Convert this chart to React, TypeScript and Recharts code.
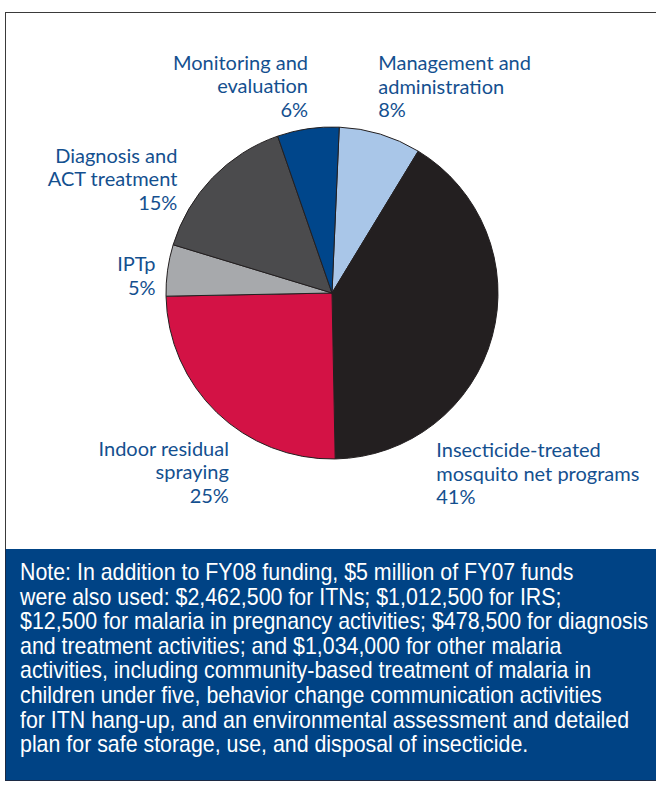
import { PieChart, Pie, Cell } from 'recharts';

// FY08 malaria budget split, clockwise from 12 o'clock
const categories = [
  'Management and\nadministration',
  'Insecticide-treated\nmosquito net programs',
  'Indoor residual\nspraying',
  'IPTp',
  'Diagnosis and\nACT treatment',
  'Monitoring and\nevaluation',
];
const shares = [8, 41, 25, 5, 15, 6];
const sliceColors = ['#a9c6e8', '#231f20', '#d31245', '#a7a9ac', '#4b4b4d', '#00468b'];

const noteLines = [
  'Note: In addition to FY08 funding, $5 million of FY07 funds',
  'were also used: $2,462,500 for ITNs; $1,012,500 for IRS;',
  '$12,500 for malaria in pregnancy activities; $478,500 for diagnosis',
  'and treatment activities; and $1,034,000 for other malaria',
  'activities, including community-based treatment of malaria in',
  'children under five, behavior change communication activities',
  'for ITN hang-up, and an environmental assessment and detailed',
  'plan for safe storage, use, and disposal of insecticide.',
];

// where each label sits relative to its slice's outer edge
const labelPlacement = [
  { anchor: 'start', dx: -2, dy: -72 },
  { anchor: 'start', dx: -56, dy: 113 },
  { anchor: 'end', dx: 12, dy: 35 },
  { anchor: 'end', dx: -12, dy: -7 },
  { anchor: 'end', dx: -35, dy: -23 },
  { anchor: 'end', dx: 0, dy: -67 },
];

const data = categories.map((name, i) => ({ name, value: shares[i] }));

const RADIAN = Math.PI / 180;
const LABEL_COLOR = '#14508f';

const renderLabel = (props: any) => {
  const { cx, cy, midAngle, outerRadius, index } = props;
  const ex = cx + outerRadius * Math.cos(-midAngle * RADIAN);
  const ey = cy + outerRadius * Math.sin(-midAngle * RADIAN);
  const p = labelPlacement[index];
  const lines = [...categories[index].split('\n'), `${shares[index]}%`];
  return (
    <g>
      {lines.map((line, i) => (
        <text
          key={i}
          x={ex + p.dx}
          y={ey + p.dy + i * 23.5}
          textAnchor={p.anchor}
          dominantBaseline="central"
          fill={LABEL_COLOR}
          fontSize={20}
          fontFamily="Lato, 'Open Sans', sans-serif"
        >
          {line}
        </text>
      ))}
    </g>
  );
};

export default function App() {
  return (
    <div style={{ position: 'absolute', left: 0, top: 0, width: 656, height: 785, background: '#fff', overflow: 'hidden' }}>
      <div
        style={{
          position: 'absolute', left: 5, top: 12, width: 700, height: 540,
          borderLeft: '1.5px solid #3a3a3a', borderTop: '1.5px solid #3a3a3a',
        }}
      />
      <div style={{ position: 'absolute', left: 0, top: 0 }}>
        <PieChart width={656} height={549} margin={{ top: 0, right: 0, bottom: 0, left: 0 }}>
          <Pie
            data={data}
            dataKey="value"
            cx={332}
            cy={293}
            outerRadius={166}
            startAngle={87.5}
            endAngle={-272.5}
            stroke="#231f20"
            strokeWidth={1}
            label={renderLabel}
            labelLine={false}
            isAnimationActive={false}
          >
            {data.map((d, i) => (
              <Cell key={d.name} fill={sliceColors[i]} />
            ))}
          </Pie>
        </PieChart>
      </div>
      <div
        style={{
          position: 'absolute', left: 5, top: 549, width: 700, height: 232,
          background: '#004385', borderLeft: '1.5px solid #1c2a44', borderBottom: '1.5px solid #1c2a44',
          boxSizing: 'border-box', paddingTop: 11, paddingLeft: 14,
        }}
      >
        {noteLines.map((line) => (
          <div key={line} style={{ height: 24.6, whiteSpace: 'nowrap' }}>
            <span
              style={{
                display: 'inline-block', color: '#fff', fontSize: 24, lineHeight: '24.6px',
                fontFamily: "'Liberation Sans', Arial, sans-serif",
                transform: 'scaleX(0.89)', transformOrigin: '0 50%',
              }}
            >
              {line}
            </span>
          </div>
        ))}
      </div>
    </div>
  );
}
